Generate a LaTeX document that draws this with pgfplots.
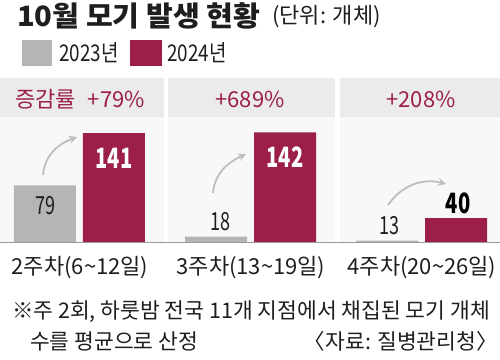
\documentclass[border=0pt]{standalone}
\usepackage{pgfplots}
\pgfplotsset{compat=1.18}
\usetikzlibrary{arrows.meta}
\usepackage{fontspec}
\setmainfont{Noto Sans CJK KR}
\newfontfamily\kr{Noto Sans CJK KR}
\newfontfamily\krw[FakeStretch=1.04]{Noto Sans CJK KR}
\newfontfamily\krc[FakeStretch=0.82]{Noto Sans CJK KR}
\newfontfamily\krn[FakeStretch=0.72]{Noto Sans CJK KR}
\definecolor{crim}{RGB}{155,30,75}
\definecolor{gbar}{RGB}{181,181,181}
\definecolor{band}{RGB}{235,235,235}
\definecolor{body}{RGB}{248,248,248}
\definecolor{arr}{RGB}{190,190,190}
\definecolor{txt}{RGB}{30,30,30}
\begin{document}
\begin{tikzpicture}[x=1pt,y=1pt]
\useasboundingbox (0,0) rectangle (500,359);
\fill[white] (0,0) rectangle (500,359);
% panels
\fill[band] (0,242) rectangle (164,281);
\fill[band] (168,242) rectangle (335,281);
\fill[band] (340,242) rectangle (500,281);
\fill[body] (0,117) rectangle (164,242);
\fill[body] (168,117) rectangle (335,242);
\fill[body] (340,117) rectangle (500,242);
% title
\node[anchor=west,inner sep=0pt,text=txt] at (17,343) {\krw\fontsize{28}{28}\selectfont\bfseries 10월 모기 발생 현황};
\node[anchor=west,inner sep=0pt,text=txt] at (272,342) {\kr\fontsize{22}{22}\selectfont (단위: 개체)};
% legend
\fill[gbar] (22,293) rectangle (52,319);
\node[anchor=west,inner sep=0pt,text=txt] at (59,306) {\krc\fontsize{23}{23}\selectfont 2023년};
\fill[crim] (130,293) rectangle (162,319);
\node[anchor=west,inner sep=0pt,text=txt] at (167,306) {\krc\fontsize{23}{23}\selectfont 2024년};
% header rates
\node[anchor=west,inner sep=0pt,text=crim] at (15,260) {\kr\fontsize{22}{22}\selectfont 증감률\hspace{12pt}+79\%};
\node[inner sep=0pt,text=crim] at (250,260) {\kr\fontsize{22}{22}\selectfont +689\%};
\node[inner sep=0pt,text=crim] at (421,260) {\kr\fontsize{22}{22}\selectfont +208\%};
\begin{axis}[at={(0pt,117pt)}, anchor=south west, scale only axis,
  width=500pt, height=140pt,
  xmin=-0.4678, xmax=2.4561, ymin=11.5, ymax=178.17,
  axis line style={draw=none}, major tick length=0pt,
  ytick=\empty, xtick={0,1,2},
  xticklabels={2주차(6\textasciitilde 12일),3주차(13\textasciitilde 19일),4주차(20\textasciitilde 26일)},
  xticklabel style={inner sep=0pt, anchor=center, yshift=-26pt, font=\kr\fontsize{22}{22}\selectfont, text=txt},
  clip=true]
\addplot[ybar, bar width=62pt, bar shift=-35pt, fill=gbar, draw=none] coordinates {(0,79) (1,18) (2,13)};
\addplot[ybar, bar width=62pt, bar shift=34pt, fill=crim, draw=none] coordinates {(0,141) (1,142) (2,40)};
\end{axis}
% baseline
\draw[color=gray!80, line width=0.8pt] (0,117) -- (500,117);
% value labels
\node[inner sep=0pt,text=txt] at (45,153) {\krn\fontsize{25}{25}\selectfont 79};
\node[inner sep=0pt,text=white] at (114,201) {\krn\fontsize{28}{28}\selectfont\bfseries 141};
\node[inner sep=0pt,text=txt] at (220,137) {\krn\fontsize{25}{25}\selectfont 18};
\node[inner sep=0pt,text=white] at (285,202) {\krn\fontsize{28}{28}\selectfont\bfseries 142};
\node[inner sep=0pt,text=txt] at (389,133) {\krn\fontsize{25}{25}\selectfont 13};
\node[inner sep=0pt,text=black] at (458,156) {\krn\fontsize{28}{28}\selectfont\bfseries 40};
% arrows
\draw[arr, line width=1.8pt, -{Stealth[length=8pt,width=8pt]}] (43,184) to[out=85,in=200] (77,222);
\draw[arr, line width=1.8pt, -{Stealth[length=8pt,width=8pt]}] (213,166) to[out=85,in=205] (246,205);
\draw[arr, line width=1.8pt, -{Stealth[length=8pt,width=8pt]}] (388,154) to[out=55,in=165] (446,175);
% footnotes
\node[anchor=west,inner sep=0pt,text=txt] at (12,47) {\kr\fontsize{21.5}{21.5}\selectfont ※주 2회, 하룻밤 전국 11개 지점에서 채집된 모기 개체};
\node[anchor=west,inner sep=0pt,text=txt] at (30,18) {\kr\fontsize{21.5}{21.5}\selectfont 수를 평균으로 산정};
\node[anchor=east,inner sep=0pt,text=txt] at (498,18) {\kr\fontsize{21.5}{21.5}\selectfont 〈자료: 질병관리청〉};
\end{tikzpicture}
\end{document}
